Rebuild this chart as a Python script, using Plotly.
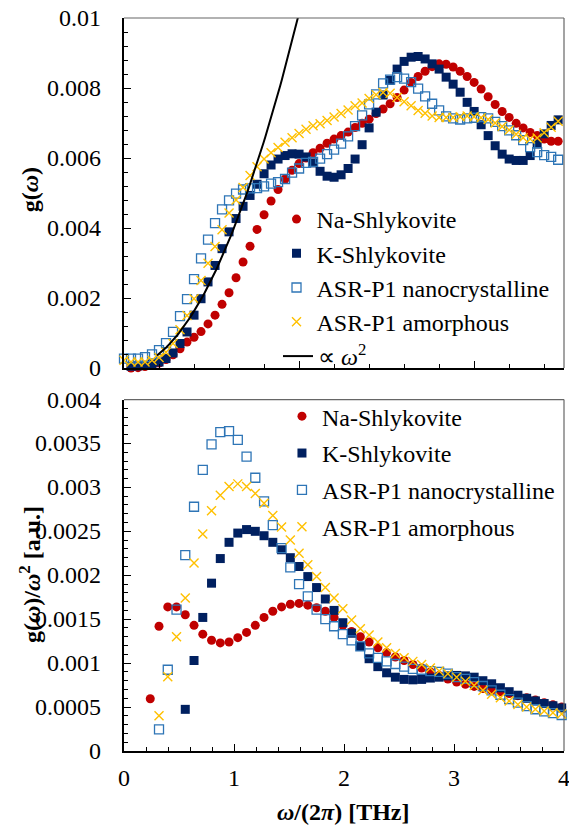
import numpy as np
import plotly.graph_objects as go

# ---------------- data ----------------
# top panel: g(omega), sampled every 0.4 rad/ps  (values in units of 1e-3)
top_omega_step = 0.4
top_na = [None, 0.00, 0.01, 0.04, 0.08, 0.14, 0.24, 0.38, 0.55, 0.74, 0.88, 1.04, 1.26, 1.51, 1.82, 2.15,
          2.58, 3.03, 3.48, 3.96, 4.38, 4.77, 5.10, 5.40, 5.65, 5.84, 6.00, 6.15, 6.28, 6.42, 6.54, 6.64,
          6.74, 6.87, 6.99, 7.11, 7.27, 7.40, 7.55, 7.73, 7.94, 8.16, 8.33, 8.48, 8.61, 8.69, 8.68, 8.60,
          8.48, 8.33, 8.16, 7.97, 7.75, 7.53, 7.33, 7.16, 6.99, 6.86, 6.73, 6.64, 6.54, 6.48, 6.48]
top_k = [None, 0.05, 0.06, 0.08, 0.12, 0.17, 0.27, 0.43, 0.70, 1.03, 1.51, 1.98, 2.46, 2.93, 3.41, 3.89,
         4.27, 4.62, 4.93, 5.25, 5.55, 5.80, 5.97, 6.07, 6.12, 6.11, 6.03, 5.86, 5.62, 5.48, 5.45, 5.52,
         5.70, 5.97, 6.38, 6.86, 7.31, 7.80, 8.22, 8.54, 8.76, 8.88, 8.90, 8.83, 8.69, 8.54, 8.31, 8.11,
         7.88, 7.59, 7.33, 6.95, 6.64, 6.35, 6.11, 5.97, 5.93, 5.93, 6.07, 6.40, 6.69, 6.93, 7.09]
top_nano = [0.27, 0.27, 0.27, 0.31, 0.39, 0.51, 0.71, 1.03, 1.48, 1.97, 2.54, 3.13, 3.67, 4.14, 4.53, 4.79,
            4.98, 5.10, 5.13, 5.14, 5.19, 5.27, 5.31, 5.40, 5.58, 5.70, 5.86, 5.89, 5.98, 6.11, 6.24, 6.41,
            6.62, 6.91, 7.22, 7.53, 7.82, 8.13, 8.24, 8.31, 8.27, 8.17, 7.98, 7.76, 7.55, 7.36, 7.19, 7.13,
            7.10, 7.13, 7.15, 7.17, 7.13, 7.03, 6.91, 6.79, 6.65, 6.51, 6.31, 6.17, 6.08, 6.03, 5.95]
top_amor = [0.22, 0.17, 0.17, 0.17, 0.22, 0.30, 0.45, 0.70, 1.09, 1.50, 1.98, 2.50, 2.99, 3.47, 3.95, 4.43,
            4.80, 5.16, 5.50, 5.75, 5.97, 6.15, 6.30, 6.45, 6.58, 6.70, 6.82, 6.92, 6.98, 7.07, 7.17, 7.27,
            7.37, 7.49, 7.57, 7.70, 7.81, 7.87, 7.85, 7.73, 7.61, 7.49, 7.36, 7.28, 7.20, 7.16, 7.16, 7.16,
            7.18, 7.20, 7.18, 7.15, 7.10, 7.00, 6.90, 6.80, 6.68, 6.58, 6.54, 6.57, 6.72, 6.88, 7.05]

# omega^2 guide line: g = coef * nu^2
fit_coef = 0.0040
fit_nu_start, fit_nu_end = 0.30, 1.62

# bottom panel: g(omega)/omega^2, sampled every 0.5 rad/ps (values in units of 1e-4)
bot_omega_step = 0.5
bot_na = [None, None, None, 5.95, 14.2, 16.4, 16.4, 15.5, 14.3, 13.3, 12.6, 12.3, 12.4, 12.9, 13.5, 14.3,
          15.2, 15.9, 16.4, 16.7, 16.8, 16.6, 16.3, 15.9, 15.2, 14.3, 13.6, 13.0, 12.4, 11.75, 11.2, 10.7,
          10.3, 9.85, 9.45, 9.0, 8.6, 8.2, 7.85, 7.6, 7.35, 7.1, 6.9, 6.75, 6.55, 6.3, 6.05, 5.8, 5.5, 5.25, 5.0]
bot_k = [None, None, None, None, None, None, None, 4.74, 10.3, 15.2, 19.1, 21.9, 23.75, 24.8, 25.2, 25.0,
         24.5, 23.75, 22.9, 22.0, 21.0, 19.85, 18.6, 17.3, 16.0, 14.6, 13.4, 11.9, 10.5, 9.6, 8.9, 8.4,
         8.15, 8.1, 8.15, 8.3, 8.4, 8.55, 8.6, 8.55, 8.4, 8.0, 7.65, 7.2, 6.75, 6.35, 6.0, 5.7, 5.4, 5.15, 4.9]
bot_nano = [None, None, None, None, 2.47, 9.25, 16.1, 22.3, 27.8, 32.0, 34.9, 36.3, 36.4, 35.4, 33.5, 31.1,
            28.4, 25.7, 23.1, 20.9, 19.0, 17.6, 16.1, 15.0, 14.2, 13.3, 12.6, 11.9, 11.1, 10.6, 10.2, 9.9,
            9.6, 9.35, 9.25, 9.1, 9.0, 8.8, 8.4, 8.2, 7.85, 7.4, 6.9, 6.4, 5.9, 5.5, 5.1, 4.75, 4.5, 4.3, 4.1]
bot_amor = [None, None, None, None, 4.0, 8.45, 13.0, 17.4, 21.4, 24.7, 27.35, 29.1, 30.1, 30.4, 30.1, 29.3,
            28.2, 26.8, 25.5, 24.0, 22.5, 21.2, 19.85, 18.6, 17.4, 16.2, 14.9, 13.9, 13.2, 12.4, 11.75, 11.1,
            10.6, 10.2, 9.85, 9.45, 9.1, 8.8, 8.4, 7.95, 7.45, 6.9, 6.45, 6.05, 5.7, 5.3, 5.0, 4.75, 4.55, 4.35, 4.2]

series_names = ["Na-Shlykovite", "K-Shlykovite", "ASR-P1 nanocrystalline", "ASR-P1 amorphous"]

top_yticks = [0, 0.002, 0.004, 0.006, 0.008, 0.01]
top_yticktext = ["0", "0.002", "0.004", "0.006", "0.008", "0.01"]
bot_yticks = [0, 0.0005, 0.001, 0.0015, 0.002, 0.0025, 0.003, 0.0035, 0.004]
bot_yticktext = ["0", "0.0005", "0.001", "0.0015", "0.002", "0.0025", "0.003", "0.0035", "0.004"]
xticks = [0, 1, 2, 3, 4]
xticktext = ["0", "1", "2", "3", "4"]

# ---------------- helpers ----------------
def scale(vals, f):
    return [None if v is None else v * f for v in vals]

def freq(step, n):
    return [step * i / (2 * np.pi) for i in range(n)]

FONT = "Times New Roman"
RED, NAVY, BLUE, GOLD = "#C00000", "#002060", "#2E75B6", "#FFC000"

styles = [
    dict(symbol="circle", color=RED, size=9, line=dict(width=0)),
    dict(symbol="square", color=NAVY, size=9, line=dict(width=0)),
    dict(symbol="square-open", color=BLUE, size=9, line=dict(width=1.3, color=BLUE)),
    dict(symbol="x-thin-open", color=GOLD, size=9, line=dict(width=1.4, color=GOLD)),
]

fig = go.Figure()
for name, vals, st, gi in zip(series_names, [top_na, top_k, top_nano, top_amor], styles, range(4)):
    fig.add_trace(go.Scatter(x=freq(top_omega_step, len(vals)), y=scale(vals, 1e-3), mode="markers",
                             name=name, marker=st, xaxis="x2", yaxis="y2", cliponaxis=False,
                             legend="legend", legendgroup="t%d" % gi))
fit_x = np.linspace(fit_nu_start, fit_nu_end, 80)
fig.add_trace(go.Scatter(x=fit_x, y=fit_coef * fit_x ** 2, mode="lines", name="\u221d <i>\u03c9</i><sup>2</sup>",
                         line=dict(color="black", width=2), xaxis="x2", yaxis="y2", legend="legend3"))
for name, vals, st, gi in zip(series_names, [bot_na, bot_k, bot_nano, bot_amor], styles, range(4)):
    fig.add_trace(go.Scatter(x=freq(bot_omega_step, len(vals)), y=scale(vals, 1e-4), mode="markers",
                             name=name, marker=st, xaxis="x", yaxis="y", cliponaxis=False,
                             legend="legend2", legendgroup="b%d" % gi))

def axis_common():
    return dict(showline=True, linecolor="black", linewidth=1.5, ticks="inside", tickcolor="black",
                tickwidth=1, showgrid=False, zeroline=False, mirror=False, showticklabels=False)

legend_font = dict(family=FONT, size=24, color="black")

fig.update_layout(
    template="none",
    width=569, height=829, margin=dict(l=124, r=5, t=18, b=78),
    paper_bgcolor="white", plot_bgcolor="white",
    font=dict(family=FONT, size=24, color="black"),
    xaxis=dict(axis_common(), domain=[0, 1], range=[0, 4], anchor="y", tickmode="array", tickvals=xticks,
               ticklen=7,
               minor=dict(dtick=0.2, tick0=0, ticks="inside", ticklen=4, tickcolor="black", tickwidth=1)),
    yaxis=dict(axis_common(), domain=[0.0, 0.4795], range=[0, 0.004], anchor="x", tickmode="array",
               tickvals=bot_yticks, ticklen=7,
               minor=dict(dtick=0.0001, tick0=0, ticks="inside", ticklen=4, tickcolor="black", tickwidth=1)),
    xaxis2=dict(axis_common(), domain=[0, 1], range=[0, 4], anchor="y2",
                tickmode="array", tickvals=[0, 10 / (2 * np.pi), 20 / (2 * np.pi)], ticklen=7,
                minor=dict(dtick=1 / np.pi, tick0=0, ticks="inside", ticklen=4, tickcolor="black", tickwidth=1)),
    yaxis2=dict(axis_common(), domain=[0.5225, 1.0], range=[0, 0.01], anchor="x2", tickmode="array",
                tickvals=top_yticks, ticklen=7,
                minor=dict(dtick=0.0004, tick0=0, ticks="inside", ticklen=4, tickcolor="black", tickwidth=1)),
    legend=dict(x=0.3466, y=0.7558, xanchor="left", yanchor="top", bgcolor="rgba(0,0,0,0)",
                font=legend_font, tracegroupgap=0, itemsizing="trace"),
    legend3=dict(x=0.35, y=0.5689, xanchor="left", yanchor="top", bgcolor="rgba(0,0,0,0)",
                 font=legend_font),
    legend2=dict(x=0.359, y=0.487, xanchor="left", yanchor="top", bgcolor="rgba(0,0,0,0)",
                 font=legend_font, tracegroupgap=2.7, itemsizing="trace"),
    showlegend=True,
)

# gray top/right frame lines
for xr, yr in (("x domain", "y domain"), ("x2 domain", "y2 domain")):
    fig.add_shape(type="line", xref=xr, yref=yr, x0=0, x1=1, y0=1, y1=1, line=dict(color="#666666", width=1.2))
    fig.add_shape(type="line", xref=xr, yref=yr, x0=1, x1=1, y0=0, y1=1, line=dict(color="#666666", width=1.2))

# tick labels (serif), placed on the axes' own scales
tick_font = dict(family=FONT, size=24, color="black")
for v, t in zip(top_yticks, top_yticktext):
    fig.add_annotation(text=t, xref="paper", yref="y2", x=-0.0477, y=v, showarrow=False,
                       xanchor="right", yanchor="middle", font=tick_font)
for v, t in zip(bot_yticks, bot_yticktext):
    fig.add_annotation(text=t, xref="paper", yref="y", x=-0.0477, y=v, showarrow=False,
                       xanchor="right", yanchor="middle", font=tick_font)
for v, t in zip(xticks, xticktext):
    fig.add_annotation(text=t, xref="x", yref="paper", x=v, y=-0.0368, showarrow=False,
                       xanchor="center", yanchor="middle", font=tick_font)

title_font = dict(family=FONT, size=24, color="black")
fig.add_annotation(text="<b>g(<i>\u03c9</i>)</b>", xref="paper", yref="paper", x=-0.2136, y=0.765,
                   textangle=-90, showarrow=False, font=title_font, xanchor="center", yanchor="middle")
fig.add_annotation(text="<b>g(<i>\u03c9</i>)/<i>\u03c9</i><sup>2</sup> [a.u.]</b>", xref="paper", yref="paper",
                   x=-0.2136, y=0.24, textangle=-90, showarrow=False, font=title_font,
                   xanchor="center", yanchor="middle")
fig.add_annotation(text="<b><i>\u03c9</i>/(2<i>\u03c0</i>) [THz]</b>", xref="paper", yref="paper",
                   x=0.4977, y=-0.0832, showarrow=False, font=title_font, xanchor="center", yanchor="middle")

fig.write_html("out.html", post_script="document.body.style.margin='0';",
               config={"displayModeBar": False})
